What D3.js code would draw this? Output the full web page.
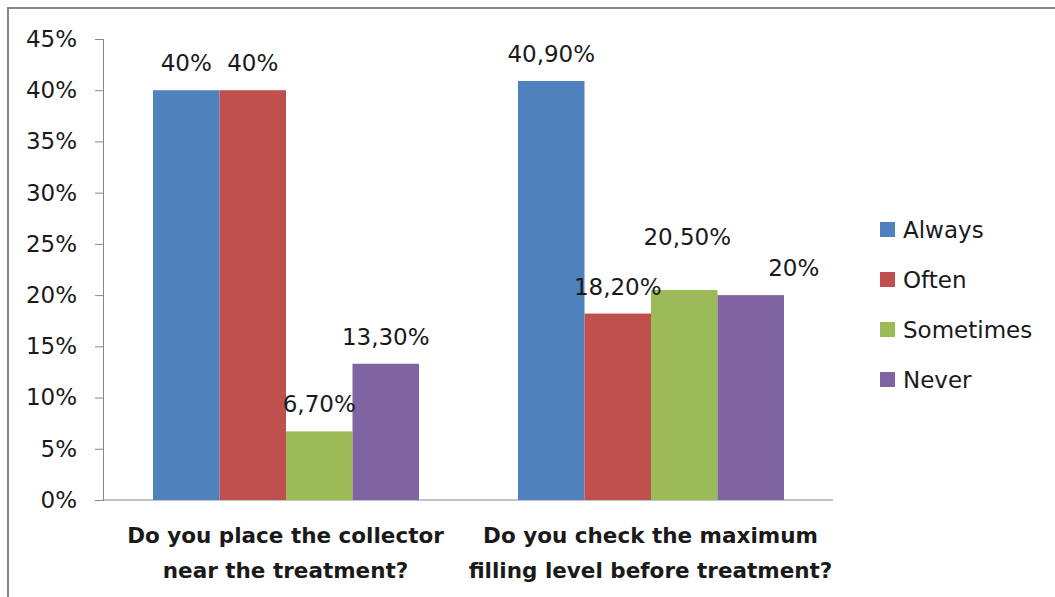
<!DOCTYPE html>
<html lang="en">
<head>
  <meta charset="UTF-8">
  <title>Collector survey</title>
  <style>
    body { margin: 0; background: #fff; }
    text { font-family: "DejaVu Sans", sans-serif; fill: #1a1a1a; }
  </style>
</head>
<body>
  <svg width="1055" height="597"></svg>

  <script src="https://cdn.jsdelivr.net/npm/d3@7"></script>
  <script>
    // data
    const questions = [
      ["Do you place the collector", "near the treatment?"],
      ["Do you check the maximum", "filling level before treatment?"]
    ];
    const series = ["Always", "Often", "Sometimes", "Never"];
    const colors = ["#4F81BD", "#C0504D", "#9BBB59", "#8064A2"];
    const values = [
      [0.40, 0.40, 0.067, 0.133],
      [0.409, 0.182, 0.205, 0.20]
    ];
    const valueLabels = [
      ["40%", "40%", "6,70%", "13,30%"],
      ["40,90%", "18,20%", "20,50%", "20%"]
    ];
    const yTicks = [0, 0.05, 0.10, 0.15, 0.20, 0.25, 0.30, 0.35, 0.40, 0.45];

    const svg = d3.select("svg");

    // outer frame (right/bottom edges fall outside the picture)
    svg.append("rect")
      .attr("x", 8).attr("y", 8)
      .attr("width", 1060).attr("height", 600)
      .attr("fill", "none")
      .attr("stroke", "#868686")
      .attr("stroke-width", 2);

    const x0 = d3.scaleBand()
      .domain(d3.range(questions.length))
      .range([103, 833]);

    const x1 = d3.scaleBand()
      .domain(series)
      .range([50, 316]);

    const y = d3.scaleLinear()
      .domain([0, 0.45])
      .range([500, 39]);

    // y axis
    const yAxis = svg.append("g")
      .attr("transform", "translate(103,0)")
      .call(d3.axisLeft(y)
        .tickValues(yTicks)
        .tickSize(8)
        .tickPadding(18)
        .tickFormat(d => Math.round(d * 100) + "%"));
    yAxis.select(".domain").attr("stroke", "#868686");
    yAxis.selectAll(".tick line").attr("stroke", "#868686");
    yAxis.selectAll(".tick text")
      .attr("font-size", 23)
      .attr("font-family", "DejaVu Sans, sans-serif")
      .attr("fill", "#1a1a1a");

    // x axis line
    svg.append("line")
      .attr("x1", 103).attr("x2", x0.range()[1])
      .attr("y1", y(0)).attr("y2", y(0))
      .attr("stroke", "#868686");

    // bars
    const groups = svg.append("g").selectAll("g")
      .data(values)
      .join("g")
      .attr("transform", (d, i) => `translate(${x0(i)},0)`);

    groups.selectAll("rect")
      .data(d => d)
      .join("rect")
      .attr("x", (d, j) => x1(series[j]))
      .attr("y", d => y(d))
      .attr("width", x1.bandwidth())
      .attr("height", d => y(0) - y(d))
      .attr("fill", (d, j) => colors[j]);

    // hand placed label nudges as in the original (dx, dy)
    const nudge = { "1-2": [3, -26], "1-3": [43, 0] };

    groups.each(function (row, i) {
      d3.select(this).selectAll("text.val")
        .data(row)
        .join("text")
        .attr("class", "val")
        .attr("text-anchor", "middle")
        .attr("font-size", 23)
        .attr("x", (d, j) => x1(series[j]) + x1.bandwidth() / 2 + (nudge[i + "-" + j] || [0, 0])[0])
        .attr("y", (d, j) => y(d) - 19 + (nudge[i + "-" + j] || [0, 0])[1])
        .text((d, j) => valueLabels[i][j]);
    });

    // category labels
    svg.append("g").selectAll("text")
      .data(questions)
      .join("text")
      .attr("text-anchor", "middle")
      .attr("font-size", 21.5)
      .attr("font-weight", "bold")
      .attr("x", (d, i) => x0(i) + x0.bandwidth() / 2)
      .attr("y", 543)
      .selectAll("tspan")
      .data(d => d)
      .join("tspan")
      .attr("x", function () { return d3.select(this.parentNode).attr("x"); })
      .attr("dy", (d, k) => k ? 35 : 0)
      .text(d => d);

    // legend
    const legend = svg.append("g")
      .selectAll("g")
      .data(series)
      .join("g")
      .attr("transform", (d, i) => `translate(880,${230 + i * 50})`);

    legend.append("rect")
      .attr("y", -8)
      .attr("width", 15).attr("height", 15)
      .attr("fill", (d, i) => colors[i]);

    legend.append("text")
      .attr("x", 23)
      .attr("y", 0)
      .attr("dy", "0.36em")
      .attr("font-size", 23)
      .text(d => d);
  </script>
</body>
</html>
